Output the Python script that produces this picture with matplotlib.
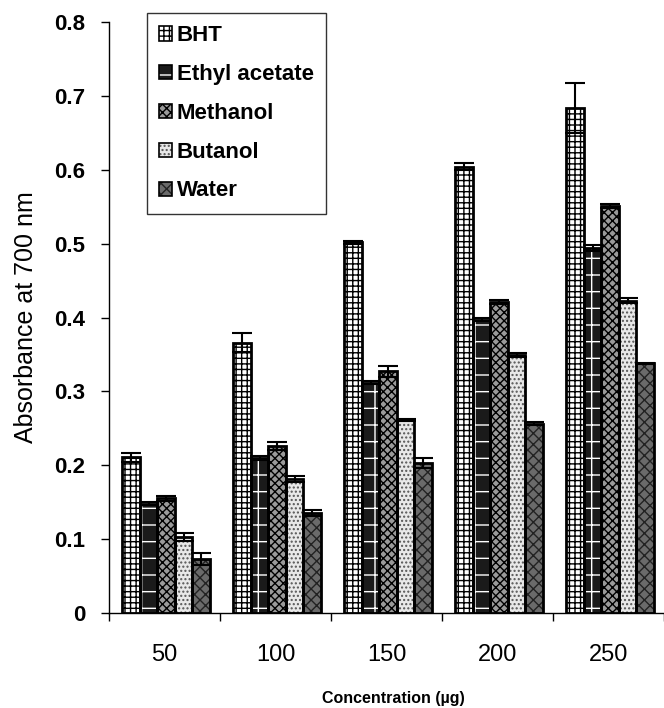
import matplotlib
matplotlib.use('Agg')
import matplotlib.pyplot as plt
import numpy as np
from matplotlib.patches import Patch

plt.rcParams['font.family'] = ['Liberation Sans', 'DejaVu Sans']
plt.rcParams['hatch.linewidth'] = 1.0

concentrations = ['50', '100', '150', '200', '250']
series = ['BHT', 'Ethyl acetate', 'Methanol', 'Butanol', 'Water']

bht = [0.211, 0.366, 0.502, 0.604, 0.684]
ethyl_acetate = [0.148, 0.210, 0.312, 0.397, 0.494]
methanol = [0.155, 0.226, 0.327, 0.421, 0.551]
butanol = [0.103, 0.182, 0.261, 0.349, 0.423]
water = [0.073, 0.135, 0.203, 0.256, 0.338]

bht_err = [0.006, 0.013, 0.002, 0.005, 0.034]
ethyl_acetate_err = [0.002, 0.003, 0.002, 0.002, 0.004]
methanol_err = [0.003, 0.006, 0.007, 0.003, 0.003]
butanol_err = [0.005, 0.004, 0.001, 0.003, 0.003]
water_err = [0.008, 0.004, 0.007, 0.002, 0.001]

values = [bht, ethyl_acetate, methanol, butanol, water]
errors = [bht_err, ethyl_acetate_err, methanol_err, butanol_err, water_err]

# face colour, hatch, hatch colour
styles = [('white', '+++', 'black'),
          ('#1a1a1a', '+', 'white'),
          ('#9a9a9a', 'xxxx', 'black'),
          ('#e8e8e8', '....', '#555555'),
          ('#6a6a6a', 'xxx', '#222222')]

fig = plt.figure(figsize=(6.64, 7.08), dpi=100)
ax = fig.add_axes([109 / 664, 95 / 708, 555 / 664, 591 / 708])

x = np.arange(len(concentrations))
width = 0.158
handles = []
for i, (vals, errs) in enumerate(zip(values, errors)):
    face, hatch, hcol = styles[i]
    pos = x + (i - 2) * width + 0.014
    ax.bar(pos, vals, width, color=face, hatch=hatch, edgecolor=hcol, linewidth=0, zorder=2)
    ax.bar(pos, vals, width, fill=False, edgecolor='black', linewidth=2, zorder=3)
    ax.errorbar(pos, vals, yerr=errs, fmt='none', ecolor='black', elinewidth=1.5,
                capsize=7, capthick=1.5, zorder=4)
    handles.append((Patch(facecolor=face, hatch=hatch, edgecolor=hcol, linewidth=0),
                    Patch(fill=False, edgecolor='black', linewidth=1.2)))

ax.set_xlim(-0.5, 4.5)
ax.set_ylim(0, 0.8)
ax.set_yticks(np.arange(0, 0.81, 0.1))
ax.set_yticklabels(['0'] + ['%.1f' % v for v in np.arange(0.1, 0.81, 0.1)],
                   fontsize=16, fontweight='bold')
ax.set_xticks(x)
ax.set_xticklabels(concentrations, fontsize=17)
ax.set_xticks(np.arange(-0.5, 4.6, 1), minor=True)
ax.tick_params(axis='x', which='major', length=0, pad=22)
ax.tick_params(axis='x', which='minor', length=6, width=1, direction='out')
ax.tick_params(axis='y', length=6, width=1, direction='out', pad=11)
ax.spines['top'].set_visible(False)
ax.spines['right'].set_visible(False)
ax.spines['left'].set_linewidth(1)
ax.spines['bottom'].set_linewidth(1)

ax.set_ylabel('Absorbance at 700 nm', fontsize=18, labelpad=12)
fig.text(393 / 664, 9 / 708, 'Concentration (\u00b5g)', fontsize=11.5, fontweight='bold',
         ha='center', va='center')

leg = ax.legend(handles, series, loc='upper left', bbox_to_anchor=(0.068, 1.015),
                borderaxespad=0, prop={'size': 16, 'weight': 'bold'}, frameon=True,
                fancybox=False, edgecolor='black', handlelength=0.6, handleheight=0.6,
                handletextpad=0.2, labelspacing=0.8, borderpad=0.55)
leg.get_frame().set_linewidth(1)

fig.savefig('out.png', dpi=100)
